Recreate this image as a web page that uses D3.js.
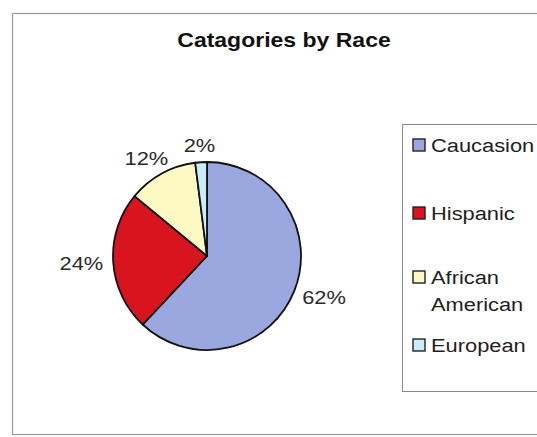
<!DOCTYPE html>
<html>
<head>
<meta charset="utf-8">
<script src="https://cdn.jsdelivr.net/npm/d3@7"></script>
<style>
  body { margin: 0; background: #fff; }
  svg { display: block; font-family: Arial, "Liberation Sans", sans-serif; }
</style>
</head>
<body>
<script>
// data
var categories = ['Caucasion', 'Hispanic', 'African American', 'European'];
var values = [62, 24, 12, 2];
var colors = ['#9ba7df', '#d8141e', '#fdf9c4', '#c9eef8'];
var legendLines = [['Caucasion'], ['Hispanic'], ['African', 'American'], ['European']];

var width = 537, height = 437;
var cx = 207, cy = 256, radius = 94;
var stretch = 1.15; // the scanned text is a bit wide

var svg = d3.select('body').append('svg')
  .attr('width', width)
  .attr('height', height);

svg.append('rect')
  .attr('width', width).attr('height', height)
  .style('fill', '#fff');

// chart frame
svg.append('rect')
  .attr('x', 12.5).attr('y', 13.5)
  .attr('width', 540).attr('height', 421)
  .style('fill', 'none')
  .style('stroke', '#9a9a9a')
  .style('stroke-width', 1.2);

svg.append('text')
  .attr('transform', 'translate(284,47) scale(' + stretch + ',1)')
  .attr('text-anchor', 'middle')
  .style('font-size', '20px')
  .style('font-weight', 'bold')
  .style('fill', '#111')
  .text('Catagories by Race');

var pie = d3.pie().sort(null).value(function(d){ return d; });
var arcs = pie(values);
var arc = d3.arc().innerRadius(0).outerRadius(radius);
var labelArc = d3.arc().innerRadius(radius + 10).outerRadius(radius + 10);

var g = svg.append('g').attr('transform', 'translate(' + cx + ',' + cy + ')');

g.selectAll('path.slice')
  .data(arcs)
  .enter().append('path')
  .attr('class', 'slice')
  .attr('d', arc)
  .style('fill', function(d, i){ return colors[i]; })
  .style('stroke', '#111')
  .style('stroke-width', 1.8)
  .style('stroke-linejoin', 'round');

// labels sit just outside the rim, pushed out by half their box
g.selectAll('text.pct')
  .data(arcs)
  .enter().append('text')
  .attr('class', 'pct')
  .attr('text-anchor', 'middle')
  .attr('dy', '0.35em')
  .style('font-size', '19px')
  .style('fill', '#2a2a2a')
  .text(function(d){ return d.value + '%'; })
  .attr('transform', function(d){
    var p = labelArc.centroid(d);
    var a = (d.startAngle + d.endAngle) / 2;
    var w = this.getComputedTextLength() * stretch;
    var x = p[0] + Math.sin(a) * w / 2;
    var y = p[1] - Math.cos(a) * 7;
    return 'translate(' + x + ',' + y + ') scale(' + stretch + ',1)';
  });

// legend
var legend = svg.append('g');
legend.append('rect')
  .attr('x', 402.5).attr('y', 124.5)
  .attr('width', 140).attr('height', 267)
  .style('fill', '#fff')
  .style('stroke', '#8a8a8a')
  .style('stroke-width', 1);

var legendY = d3.scaleOrdinal()
  .domain(categories)
  .range([145, 213, 277, 345]);

var items = legend.selectAll('g.item')
  .data(categories)
  .enter().append('g')
  .attr('class', 'item')
  .attr('transform', function(d){ return 'translate(413,' + legendY(d) + ')'; });

items.append('rect')
  .attr('x', 0).attr('y', -6)
  .attr('width', 12).attr('height', 12)
  .style('fill', function(d, i){ return colors[i]; })
  .style('stroke', '#222')
  .style('stroke-width', 1.4);

items.each(function(d, i){
  var t = d3.select(this).append('text')
    .attr('transform', 'translate(18,0) scale(' + stretch + ',1)')
    .style('font-size', '19px')
    .style('fill', '#1e1e1e');
  legendLines[i].forEach(function(line, j){
    t.append('tspan')
      .attr('x', 0)
      .attr('dy', j === 0 ? '0.36em' : '1.45em')
      .text(line);
  });
});
</script>
</body>
</html>
